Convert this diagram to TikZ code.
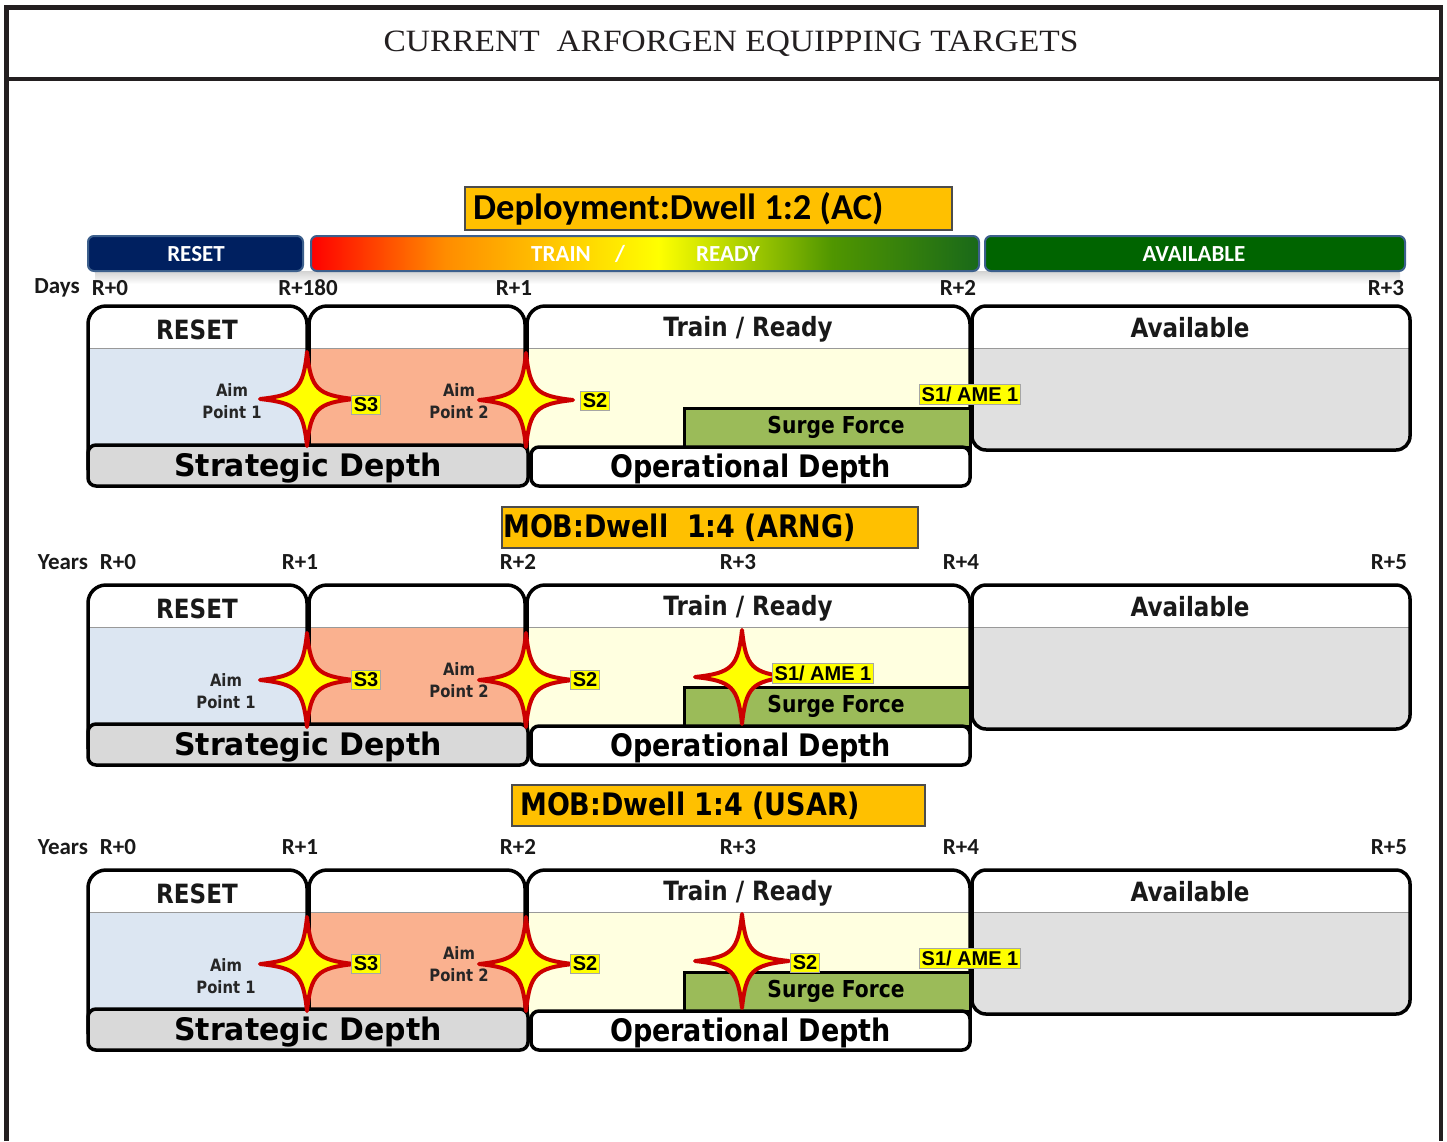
\documentclass[tikz,border=0pt]{standalone}
\usepackage{graphicx}
\usepackage{fontspec}
\setmainfont{Liberation Serif}
\newfontfamily\tahfont[FakeStretch=0.87]{DejaVu Sans}
\newfontfamily\calfont{Carlito}
\newfontfamily\arifont{Liberation Sans}
\newcommand\fsz[1]{\fontsize{#1}{#1}\selectfont}

\definecolor{framec}{RGB}{35,31,32}
\definecolor{navy}{RGB}{0,32,96}
\definecolor{barborder}{RGB}{60,95,140}
\definecolor{availgreen}{RGB}{0,100,0}
\definecolor{orangebox}{RGB}{255,192,0}
\definecolor{resetbody}{RGB}{220,230,242}
\definecolor{salmon}{RGB}{250,177,143}
\definecolor{lightyel}{RGB}{255,255,224}
\definecolor{availgray}{RGB}{224,224,224}
\definecolor{stratgray}{RGB}{217,217,217}
\definecolor{surge}{RGB}{155,187,89}
\definecolor{starred}{RGB}{204,0,0}
\definecolor{staryel}{RGB}{255,255,0}
\definecolor{trred}{RGB}{255,0,0}
\definecolor{trorange}{RGB}{255,140,0}
\definecolor{tryellow}{RGB}{255,255,0}
\definecolor{trlime}{RGB}{175,210,0}
\definecolor{trgreen}{RGB}{80,150,0}
\definecolor{trdark}{RGB}{25,105,25}

\pgfdeclarehorizontalshading{trainready}{100bp}{color(0bp)=(trred); color(25bp)=(trred); color(35bp)=(trorange); color(51bp)=(tryellow); color(57bp)=(trlime); color(64bp)=(trgreen); color(75bp)=(trdark); color(100bp)=(trdark)}

\tikzset{
  frm/.style={draw=framec, line width=4.5},
  colline/.style={draw=black, line width=3.5, line join=round},
  hline/.style={draw=gray!80, line width=1},
  hdr/.style={font={\fsz{26.5}\tahfont\bfseries}, inner sep=0, text=black!90},
  bar/.style={draw=barborder, line width=2, rounded corners=6pt, inner sep=0, minimum height=35},
  bartxt/.style={font={\fsz{23}\calfont\bfseries}, text=white, inner sep=0},
  lbl/.style={font={\fsz{23}\calfont\bfseries}, text=black!90, inner sep=0},
  depth/.style={draw=black, line width=3.5, rounded corners=8pt, inner sep=0, text height=22, text depth=0, font={\fsz{31}\tahfont\bfseries}},
  surgebox/.style={fill=surge, draw=black, line width=3},
  surgetxt/.style={font={\fsz{23.3}\tahfont\bfseries}, inner sep=0},
  aim/.style={font={\fontsize{17}{22}\tahfont\bfseries}, align=center, inner sep=0, text=black!85},
  slbl/.style={fill=staryel, draw=gray!70, line width=0.8, inner xsep=2, inner ysep=2.5, font={\fsz{20}\arifont\bfseries}},
  starsty/.style={fill=staryel, draw=starred, line width=4, line join=round},
  tbox/.style={fill=orangebox, draw=black!70, line width=1.2, inner sep=0},
  ttxt/.style={inner sep=0, anchor=west},
}

\newcommand\starat[2]{%
  \begin{scope}[shift={(#1,#2)}]
    \draw[starsty] (0,-47) .. controls (4,-10) and (10,-4) .. (47,0)
      .. controls (10,4) and (4,10) .. (0,47)
      .. controls (-4,10) and (-10,4) .. (-47,0)
      .. controls (-10,-4) and (-4,-10) .. (0,-47) -- cycle;
  \end{scope}}

\newcommand\panelcommon[1]{%
  % column 1 (RESET)
  \fill[white] (88,470) -- (88,324) arc[start angle=180,end angle=90,radius=18pt] -- (289,306) arc[start angle=90,end angle=0,radius=18pt] -- (307,470) -- cycle;
  \fill[resetbody] (88,348) rectangle (307,470);
  \draw[hline] (88,348) -- (307,348);
  \draw[colline] (88,470) -- (88,324) arc[start angle=180,end angle=90,radius=18pt] -- (289,306) arc[start angle=90,end angle=0,radius=18pt] -- (307,470);
  % column 2
  \fill[white] (309,470) -- (309,324) arc[start angle=180,end angle=90,radius=18pt] -- (507,306) arc[start angle=90,end angle=0,radius=18pt] -- (525,470) -- cycle;
  \fill[salmon] (309,348) rectangle (525,470);
  \draw[hline] (309,348) -- (525,348);
  \draw[colline] (309,470) -- (309,324) arc[start angle=180,end angle=90,radius=18pt] -- (507,306) arc[start angle=90,end angle=0,radius=18pt] -- (525,470);
  % column 3 (Train / Ready)
  \fill[white] (527,470) -- (527,324) arc[start angle=180,end angle=90,radius=18pt] -- (952,306) arc[start angle=90,end angle=0,radius=18pt] -- (970,470) -- cycle;
  \fill[lightyel] (527,348) rectangle (970,470);
  \draw[hline] (527,348) -- (970,348);
  \draw[colline] (527,470) -- (527,324) arc[start angle=180,end angle=90,radius=18pt] -- (952,306) arc[start angle=90,end angle=0,radius=18pt] -- (970,470);
  % Available
  \fill[availgray, rounded corners=14pt] (972,306) rectangle (1410,450);
  \fill[white] (972,348) -- (972,320) arc[start angle=180,end angle=90,radius=14pt] -- (1396,306) arc[start angle=90,end angle=0,radius=14pt] -- (1410,348) -- cycle;
  \draw[hline] (972,348) -- (1410,348);
  \draw[colline, rounded corners=14pt] (972,306) rectangle (1410,450);
  % headers
  \node[hdr] (reset#1) at (197,330) {RESET};
  \node[hdr] (train#1) at (748,329) {Train / Ready};
  \node[hdr] (avail#1) at (1190,328) {Available};
  % surge force
  \draw[surgebox] (684,408) rectangle (970,447);
  \node[surgetxt] (surge#1) at (836,427) {Surge Force};
  % depth boxes
  \node[depth, fill=stratgray, minimum width=440, minimum height=41] (strat#1) at (308,465.5) {\scalebox{1.11}[1]{Strategic Depth}};
  \node[depth, fill=white, minimum width=439, minimum height=39] (oper#1) at (750.5,466.5) {Operational Depth};
}

\begin{document}
\begin{tikzpicture}[x=1pt,y=-1pt]
\useasboundingbox (0,0) rectangle (1447,1141);
\fill[white] (0,0) rectangle (1447,1141);

% frame and title
\draw[frm] (6.5,1141) -- (6.5,7.5) -- (1441,7.5) -- (1441,1141);
\draw[frm] (6.5,79) -- (1441,79);
\node[font={\fsz{31}\rmfamily}, text=framec, inner sep=0] (title) at (731,44) {\scalebox{1.08}[1]{CURRENT\ \ ARFORGEN EQUIPPING TARGETS}};

% ---------- panel 1 title and bar ----------
\node[tbox, minimum width=487, minimum height=43] (tboxA) at (708.5,208.5) {};
\node[ttxt, font={\fsz{36.5}\calfont\bfseries}] (ttxtA) at (473,209) {Deployment:Dwell 1:2 (AC)};

\shade[top color=gray!35, bottom color=white] (95,271) rectangle (1400,284);
\node[bar, fill=navy, minimum width=215] (barreset) at (195.5,253.5) {};
\node[bartxt] (barresettxt) at (196,254) {RESET};
\node[bar, shading=trainready, minimum width=668] (bartrain) at (645,253.5) {};
\node[bartxt] (bartraintxt) at (561,254) {TRAIN};
\node[bartxt] (barslash) at (620,254) {/};
\node[bartxt] (barready) at (728,254) {READY};
\node[bar, fill=availgreen, minimum width=420] (baravail) at (1195,253.5) {};
\node[bartxt] (baravailtxt) at (1194,254) {AVAILABLE};

% panel 1 scale labels
\node[lbl] (daysA) at (57,288) {Days};
\node[lbl] (r0A) at (110,288) {R+0};
\node[lbl] (r180A) at (308,288) {R+180};
\node[lbl] (r1A) at (514,288) {R+1};
\node[lbl] (r2A) at (958,288) {R+2};
\node[lbl] (r3A) at (1386,288) {R+3};

% ---------- panel 1 ----------
\begin{scope}
\panelcommon{A}
\starat{307}{399}
\starat{526}{400}
\node[aim] (aimoneA) at (232,401) {Aim\\Point 1};
\node[aim] (aimtwoA) at (459,401) {Aim\\Point 2};
\node[slbl] (sthreeA) at (366,405) {S3};
\node[slbl] (stwoA) at (595,401) {S2};
\node[slbl] (soneA) at (970,394) {S1/ AME 1};
\end{scope}

% ---------- panel 2 ----------
\node[tbox, minimum width=416, minimum height=41] (tboxB) at (710,527.5) {};
\node[ttxt, font={\fsz{31}\tahfont\bfseries}] (ttxtB) at (503,528) {MOB:Dwell\ \ 1:4 (ARNG)};
\node[lbl] (yearsB) at (63,562) {Years};
\node[lbl] (r0B) at (118,562) {R+0};
\node[lbl] (r1B) at (300,562) {R+1};
\node[lbl] (r2B) at (518,562) {R+2};
\node[lbl] (r3B) at (738,562) {R+3};
\node[lbl] (r4B) at (961,562) {R+4};
\node[lbl] (r5B) at (1389,562) {R+5};
\begin{scope}[shift={(0,279)}]
\panelcommon{B}
\starat{307}{401}
\starat{526}{401}
\starat{742}{398}
\node[aim] (aimoneB) at (226,412) {Aim\\Point 1};
\node[aim] (aimtwoB) at (459,401) {Aim\\Point 2};
\node[slbl] (sthreeB) at (366,401) {S3};
\node[slbl] (stwoB) at (585,401) {S2};
\node[slbl] (soneB) at (823,394) {S1/ AME 1};
\end{scope}

% ---------- panel 3 ----------
\node[tbox, minimum width=413, minimum height=41] (tboxC) at (718.5,805.5) {};
\node[ttxt, font={\fsz{31}\tahfont\bfseries}] (ttxtC) at (520,806) {MOB:Dwell 1:4 (USAR)};
\node[lbl] (yearsC) at (63,847) {Years};
\node[lbl] (r0C) at (118,847) {R+0};
\node[lbl] (r1C) at (300,847) {R+1};
\node[lbl] (r2C) at (518,847) {R+2};
\node[lbl] (r3C) at (738,847) {R+3};
\node[lbl] (r4C) at (961,847) {R+4};
\node[lbl] (r5C) at (1389,847) {R+5};
\begin{scope}[shift={(0,564)}]
\panelcommon{C}
\starat{307}{400}
\starat{526}{400}
\starat{742}{397}
\node[aim] (aimoneC) at (226,412) {Aim\\Point 1};
\node[aim] (aimtwoC) at (459,400) {Aim\\Point 2};
\node[slbl] (sthreeC) at (366,400) {S3};
\node[slbl] (stwoC) at (585,400) {S2};
\node[slbl] (stwoxC) at (805,399) {S2};
\node[slbl] (soneC) at (970,394) {S1/ AME 1};
\end{scope}
\end{tikzpicture}
\end{document}
